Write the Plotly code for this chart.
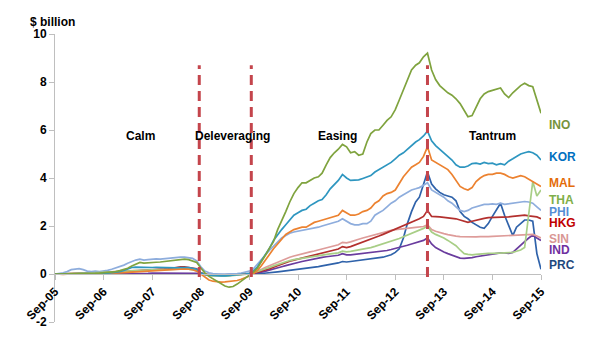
import pandas as pd
import plotly.graph_objects as go

# Monthly observations, Sep-2005 .. Sep-2015 ($ billion, cumulative)
dates = pd.date_range("2005-09-01", periods=121, freq="MS")

ino = [0.00, 0.00, 0.01, 0.00, 0.02, 0.02, 0.03, 0.02, 0.03, 0.02, 0.03, 0.04,
       0.05, 0.06, 0.08, 0.10, 0.14, 0.18, 0.24, 0.33, 0.42, 0.48, 0.45, 0.47,
       0.50, 0.49, 0.50, 0.52, 0.53, 0.55, 0.56, 0.58, 0.62, 0.60, 0.55, 0.48,
       0.25, 0.05, -0.10, -0.20, -0.28, -0.38, -0.50, -0.55, -0.52, -0.42, -0.30, -0.15,
       -0.02, 0.08, 0.25, 0.50, 0.80, 1.10, 1.35, 1.85, 2.20, 2.60, 3.00, 3.35,
       3.60, 3.80, 3.80, 3.90, 4.00, 4.05, 4.20, 4.55, 4.85, 5.05, 5.20, 5.40,
       5.30, 5.05, 5.10, 4.95, 5.00, 5.50, 5.85, 6.00, 6.00, 6.20, 6.40, 6.55,
       6.85, 7.25, 7.70, 8.10, 8.50, 8.70, 8.80, 9.05, 9.20, 8.50, 8.10, 7.85,
       7.70, 7.55, 7.45, 7.30, 7.10, 6.80, 6.55, 6.60, 6.95, 7.30, 7.50, 7.60,
       7.65, 7.70, 7.75, 7.50, 7.35, 7.55, 7.70, 7.85, 7.95, 7.85, 7.80, 7.20,
       6.70]

kor = [0.00, 0.00, 0.00, 0.00, 0.00, 0.01, 0.01, 0.01, 0.02, 0.02, 0.02, 0.03,
       0.03, 0.04, 0.05, 0.07, 0.10, 0.15, 0.22, 0.27, 0.29, 0.28, 0.27, 0.26,
       0.27, 0.28, 0.27, 0.26, 0.26, 0.25, 0.26, 0.27, 0.28, 0.27, 0.24, 0.20,
       0.05, -0.02, -0.05, -0.07, -0.08, -0.08, -0.08, -0.07, -0.06, -0.05, -0.03, 0.00,
       0.03, 0.12, 0.30, 0.55, 0.85, 1.10, 1.40, 1.65, 1.85, 2.05, 2.25, 2.45,
       2.55, 2.65, 2.70, 2.85, 2.95, 3.05, 3.10, 3.30, 3.55, 3.75, 3.90, 4.15,
       4.00, 3.90, 3.90, 3.92, 3.98, 4.05, 4.10, 4.25, 4.35, 4.45, 4.55, 4.65,
       4.80, 4.95, 5.05, 5.20, 5.35, 5.50, 5.60, 5.75, 5.95, 5.55, 5.35, 5.20,
       5.05, 4.90, 4.75, 4.55, 4.45, 4.45, 4.50, 4.60, 4.62, 4.58, 4.65, 4.60,
       4.62, 4.55, 4.60, 4.55, 4.70, 4.80, 4.90, 5.00, 5.05, 5.10, 5.05, 4.95,
       4.75]

mal = [0.00, -0.02, -0.02, -0.01, 0.00, 0.00, 0.01, 0.01, 0.01, 0.02, 0.02, 0.02,
       0.02, 0.03, 0.03, 0.04, 0.05, 0.06, 0.07, 0.08, 0.09, 0.10, 0.10, 0.11,
       0.12, 0.13, 0.14, 0.15, 0.17, 0.18, 0.19, 0.20, 0.21, 0.20, 0.18, 0.12,
       0.00, -0.15, -0.25, -0.30, -0.33, -0.34, -0.33, -0.32, -0.30, -0.27, -0.22, -0.16,
       -0.08, 0.02, 0.15, 0.35, 0.60, 0.85, 1.05, 1.25, 1.45, 1.65, 1.75, 1.85,
       1.90, 1.95, 1.95, 2.05, 2.15, 2.20, 2.25, 2.30, 2.35, 2.40, 2.45, 2.65,
       2.55, 2.45, 2.45, 2.50, 2.60, 2.65, 2.75, 2.95, 3.05, 3.25, 3.35, 3.40,
       3.50, 3.80, 4.05, 4.25, 4.45, 4.55, 4.65, 4.90, 5.30, 4.75, 4.65, 4.55,
       4.45, 4.35, 4.15, 3.90, 3.65, 3.55, 3.50, 3.60, 3.85, 4.00, 4.10, 4.15,
       4.15, 4.20, 4.20, 4.15, 4.05, 4.00, 4.05, 4.10, 4.05, 3.95, 3.85, 3.75,
       3.65]

tha = [0.00, 0.01, 0.01, 0.02, 0.02, 0.03, 0.03, 0.04, 0.04, 0.05, 0.05, 0.06,
       0.07, 0.08, 0.09, 0.10, 0.11, 0.12, 0.12, 0.13, 0.14, 0.15, 0.15, 0.16,
       0.17, 0.17, 0.18, 0.18, 0.19, 0.20, 0.20, 0.21, 0.21, 0.20, 0.18, 0.14,
       0.02, -0.04, -0.07, -0.08, -0.09, -0.09, -0.09, -0.08, -0.07, -0.06, -0.05, -0.03,
       0.00, 0.05, 0.10, 0.16, 0.22, 0.28, 0.34, 0.40, 0.46, 0.52, 0.56, 0.60,
       0.63, 0.66, 0.69, 0.72, 0.75, 0.78, 0.80, 0.82, 0.84, 0.86, 0.88, 0.95,
       0.92, 0.94, 0.97, 1.00, 1.03, 1.06, 1.10, 1.15, 1.20, 1.25, 1.30, 1.35,
       1.40, 1.48, 1.55, 1.62, 1.70, 1.76, 1.82, 1.90, 2.00, 1.75, 1.65, 1.58,
       1.50, 1.40, 1.30, 1.18, 1.00, 0.85, 0.82, 0.80, 0.82, 0.84, 0.85, 0.86,
       0.86, 0.87, 0.88, 0.90, 0.88, 0.90, 0.95, 1.00, 1.10, 2.60, 3.85, 3.25,
       3.50]

phi = [0.00, 0.02, 0.05, 0.10, 0.18, 0.20, 0.22, 0.18, 0.12, 0.10, 0.12, 0.10,
       0.12, 0.15, 0.20, 0.25, 0.30, 0.37, 0.45, 0.52, 0.58, 0.62, 0.58, 0.60,
       0.62, 0.63, 0.62, 0.64, 0.66, 0.65, 0.67, 0.70, 0.70, 0.68, 0.65, 0.55,
       0.30, 0.12, 0.05, 0.02, 0.00, -0.02, -0.02, 0.00, 0.00, 0.02, 0.04, 0.07,
       0.12, 0.22, 0.40, 0.60, 0.80, 1.00, 1.15, 1.35, 1.50, 1.60, 1.70, 1.75,
       1.78, 1.82, 1.85, 1.88, 1.90, 1.95, 2.00, 2.05, 2.10, 2.12, 2.20, 2.30,
       2.20, 2.10, 2.05, 2.05, 2.10, 2.10, 2.20, 2.45, 2.55, 2.65, 2.80, 2.95,
       3.05, 3.20, 3.30, 3.40, 3.50, 3.55, 3.60, 3.70, 3.80, 3.50, 3.40, 3.30,
       3.20, 3.05, 2.95, 2.80, 2.65, 2.60, 2.65, 2.75, 2.80, 2.85, 2.90, 2.90,
       2.92, 2.90, 2.95, 2.90, 2.92, 2.95, 2.95, 3.00, 3.02, 3.00, 2.95, 2.80,
       2.65]

hkg = [0.00, 0.01, 0.01, 0.02, 0.02, 0.03, 0.03, 0.03, 0.04, 0.04, 0.05, 0.05,
       0.05, 0.06, 0.06, 0.07, 0.08, 0.08, 0.09, 0.10, 0.10, 0.11, 0.12, 0.13,
       0.14, 0.15, 0.17, 0.20, 0.22, 0.25, 0.28, 0.30, 0.30, 0.28, 0.26, 0.22,
       0.05, -0.02, -0.05, -0.06, -0.07, -0.07, -0.07, -0.06, -0.05, -0.04, -0.03, -0.02,
       0.00, 0.03, 0.08, 0.12, 0.17, 0.22, 0.28, 0.35, 0.42, 0.48, 0.53, 0.58,
       0.62, 0.66, 0.70, 0.74, 0.78, 0.82, 0.86, 0.90, 0.94, 0.98, 1.04, 1.14,
       1.10, 1.14, 1.20, 1.26, 1.32, 1.38, 1.45, 1.52, 1.58, 1.65, 1.72, 1.80,
       1.88, 1.95, 2.02, 2.10, 2.18, 2.25, 2.30, 2.40, 2.65, 2.40, 2.40, 2.38,
       2.36, 2.35, 2.32, 2.30, 2.25, 2.20, 2.15, 2.20, 2.25, 2.30, 2.32, 2.35,
       2.35, 2.35, 2.35, 2.35, 2.38, 2.40, 2.42, 2.45, 2.45, 2.42, 2.40, 2.38,
       2.30]

sin = [0.00, 0.01, 0.02, 0.02, 0.03, 0.03, 0.04, 0.04, 0.05, 0.05, 0.06, 0.06,
       0.07, 0.08, 0.09, 0.10, 0.11, 0.12, 0.13, 0.14, 0.15, 0.16, 0.17, 0.18,
       0.19, 0.20, 0.21, 0.22, 0.23, 0.24, 0.25, 0.25, 0.24, 0.23, 0.22, 0.18,
       0.06, 0.00, -0.03, -0.04, -0.05, -0.05, -0.04, -0.04, -0.03, -0.02, -0.01, 0.00,
       0.02, 0.06, 0.12, 0.20, 0.28, 0.35, 0.42, 0.50, 0.58, 0.64, 0.70, 0.75,
       0.80, 0.85, 0.88, 0.92, 0.96, 1.00, 1.04, 1.08, 1.12, 1.16, 1.22, 1.32,
       1.30, 1.34, 1.38, 1.45, 1.50, 1.55, 1.60, 1.65, 1.70, 1.74, 1.78, 1.82,
       1.85, 1.86, 1.88, 1.90, 1.92, 1.94, 1.95, 1.98, 2.05, 1.85, 1.78, 1.72,
       1.68, 1.64, 1.60, 1.58, 1.56, 1.55, 1.55, 1.55, 1.55, 1.56, 1.55, 1.56,
       1.57, 1.58, 1.58, 1.60, 1.60, 1.61, 1.62, 1.64, 1.65, 1.66, 1.65, 1.58,
       1.50]

ind = [0.00, 0.00, 0.00, 0.00, 0.00, 0.00, 0.00, 0.01, 0.01, 0.01, 0.01, 0.01,
       0.02, 0.02, 0.02, 0.02, 0.02, 0.02, 0.03, 0.03, 0.03, 0.03, 0.03, 0.03,
       0.04, 0.04, 0.04, 0.04, 0.04, 0.05, 0.05, 0.05, 0.05, 0.05, 0.04, 0.03,
       0.00, -0.02, -0.03, -0.04, -0.04, -0.04, -0.04, -0.03, -0.03, -0.02, -0.02, -0.01,
       0.00, 0.02, 0.05, 0.08, 0.12, 0.16, 0.20, 0.25, 0.30, 0.35, 0.40, 0.44,
       0.48, 0.52, 0.56, 0.60, 0.63, 0.66, 0.69, 0.72, 0.74, 0.76, 0.78, 0.85,
       0.80, 0.80, 0.82, 0.84, 0.85, 0.86, 0.88, 0.90, 0.92, 0.95, 0.98, 1.02,
       1.06, 1.10, 1.15, 1.20, 1.25, 1.30, 1.35, 1.40, 1.50, 1.25, 1.10, 1.00,
       0.92, 0.85, 0.78, 0.72, 0.66, 0.65, 0.66, 0.68, 0.72, 0.75, 0.78, 0.80,
       0.82, 0.85, 0.88, 0.88, 0.86, 0.90, 1.05, 1.20, 1.35, 1.50, 1.62, 1.50,
       1.40]

prc = [0.00, 0.00, 0.00, 0.00, 0.00, 0.00, 0.00, 0.00, 0.01, 0.01, 0.01, 0.01,
       0.01, 0.01, 0.01, 0.01, 0.01, 0.02, 0.02, 0.02, 0.02, 0.02, 0.02, 0.02,
       0.02, 0.02, 0.03, 0.03, 0.03, 0.03, 0.03, 0.03, 0.03, 0.03, 0.02, 0.02,
       0.00, -0.01, -0.02, -0.02, -0.02, -0.02, -0.02, -0.02, -0.02, -0.01, -0.01, -0.01,
       0.00, 0.00, 0.01, 0.02, 0.03, 0.05, 0.07, 0.09, 0.11, 0.13, 0.15, 0.17,
       0.19, 0.21, 0.23, 0.25, 0.28, 0.31, 0.34, 0.37, 0.40, 0.43, 0.46, 0.52,
       0.50, 0.52, 0.54, 0.56, 0.58, 0.60, 0.62, 0.64, 0.66, 0.70, 0.75, 0.80,
       0.90, 1.05, 1.50, 2.10, 2.60, 3.00, 3.20, 3.70, 4.25, 3.75, 3.55, 3.40,
       3.30, 3.25, 3.20, 3.05, 2.60, 2.40, 2.30, 2.15, 2.05, 1.95, 1.90, 2.10,
       2.40, 2.70, 2.95, 2.45, 2.00, 1.60, 1.95, 2.10, 2.25, 2.25, 2.20, 0.85,
       0.20]

series_names = ["PRC", "IND", "SIN", "HKG", "PHI", "THA", "MAL", "KOR", "INO"]
series_values = [prc, ind, sin, hkg, phi, tha, mal, kor, ino]

# Episode boundaries and labels
break_dates = ["2008-08-20", "2009-09-15", "2013-05-01"]
episodes = ["Calm", "Deleveraging", "Easing", "Tantrum"]

tick_dates = [f"{y}-09-01" for y in range(2005, 2016)]
tick_text = [f"Sep-{y % 100:02d}" for y in range(2005, 2016)]
y_ticks = [-2, 0, 2, 4, 6, 8, 10]
y_tick_text = [str(v) for v in y_ticks]

line_colors = {
    "INO": "#7FA33E", "KOR": "#2E96C0", "MAL": "#EC8230", "THA": "#A8CE86",
    "PHI": "#8EADDD", "HKG": "#B3302E", "SIN": "#DE9C9A", "IND": "#6A3C9E",
    "PRC": "#2F62AA",
}
label_colors = {
    "INO": "#76923C", "KOR": "#0070C0", "MAL": "#E46C0A", "THA": "#7FAF4A",
    "PHI": "#558ED5", "HKG": "#C00000", "SIN": "#D99694", "IND": "#7030A0",
    "PRC": "#1F497D",
}
# vertical placement of the end-of-line labels (axis units)
label_y = {"INO": 6.2, "KOR": 4.88, "MAL": 3.8, "THA": 3.1, "PHI": 2.58,
           "HKG": 2.12, "SIN": 1.46, "IND": 1.0, "PRC": 0.38}
# horizontal placement of episode labels (paper units) and common height
episode_x = [0.175, 0.366, 0.582, 0.901]
episode_y = 5.75

FONT = "Liberation Sans, Arial, sans-serif"

fig = go.Figure()
for name, vals in zip(series_names, series_values):
    fig.add_trace(go.Scatter(
        x=dates, y=vals, mode="lines", name=name,
        line=dict(color=line_colors[name], width=1.7),
        showlegend=False, hoverinfo="skip",
    ))

for d in break_dates:
    fig.add_shape(type="line", xref="x", yref="y", x0=d, x1=d, y0=-0.12, y1=8.7,
                  line=dict(color="#C4454C", width=3, dash="10px,6px"))

annotations = []
for name in series_names:
    annotations.append(dict(
        xref="paper", yref="y", x=1.012, y=label_y[name], text=name,
        xanchor="left", yanchor="middle", showarrow=False,
        font=dict(family=FONT, size=12, color=label_colors[name], weight="bold"),
    ))
for txt, xp in zip(episodes, episode_x):
    annotations.append(dict(
        xref="paper", yref="y", x=xp, y=episode_y, text=txt,
        xanchor="center", yanchor="middle", showarrow=False,
        font=dict(family=FONT, size=12, color="black", weight="bold"),
    ))
annotations.append(dict(
    xref="paper", yref="paper", x=-0.056, y=1.042, text="$ billion",
    xanchor="left", yanchor="middle", showarrow=False,
    font=dict(family=FONT, size=12, color="black", weight="bold"),
))

fig.update_layout(
    width=600, height=345,
    margin=dict(l=55, r=59, t=34, b=23),
    paper_bgcolor="white", plot_bgcolor="white",
    annotations=annotations,
    xaxis=dict(
        type="date", range=["2005-09-01", "2015-09-01"],
        tickvals=tick_dates, ticktext=tick_text, tickangle=-45,
        anchor="free", position=2 / 12,
        showline=True, linecolor="#BFBFBF", linewidth=1,
        ticks="outside", ticklen=5, tickcolor="#BFBFBF",
        showgrid=False, zeroline=False,
        tickfont=dict(family=FONT, size=12, color="black", weight="bold"),
    ),
    yaxis=dict(
        range=[-2, 10], tickvals=y_ticks, ticktext=y_tick_text,
        showline=True, linecolor="#BFBFBF", linewidth=1,
        ticks="outside", ticklen=5, tickcolor="#BFBFBF",
        showgrid=False, zeroline=False,
        tickfont=dict(family=FONT, size=12, color="black", weight="bold"),
    ),
)

fig.write_html("out.html")
